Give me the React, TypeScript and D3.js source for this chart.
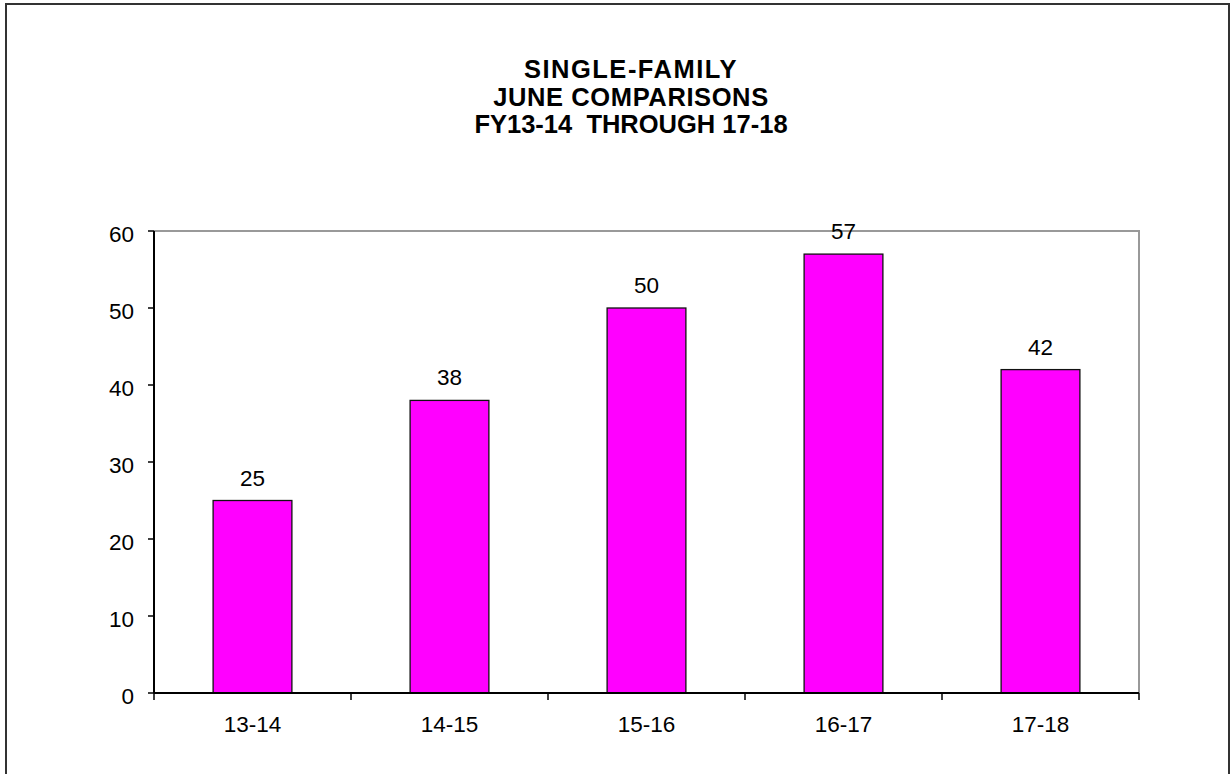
import React, { useEffect, useRef } from "react";
import * as d3 from "d3";

// fiscal years shown on the x axis
const categories = ["13-14", "14-15", "15-16", "16-17", "17-18"];
// single-family counts for June
const values = [25, 38, 50, 57, 42];
const yTicks = [0, 10, 20, 30, 40, 50, 60];
const titleLines = ["SINGLE-FAMILY", "JUNE COMPARISONS", "FY13-14\u00a0\u00a0THROUGH 17-18"];

const W = 1230;
const H = 774;
const left = 154, right = 1139, top = 231, bottom = 693;

export default function App() {
  const svgRef = useRef<SVGSVGElement>(null);

  useEffect(() => {
    const svg = d3.select(svgRef.current);
    svg.selectAll("*").remove();

    const x = d3.scaleBand<string>().domain(categories).range([left, right]).paddingInner(0.6).paddingOuter(0.3);
    const xb = d3.scaleBand<string>().domain(categories).range([left, right]);
    const y = d3.scaleLinear().domain([0, 60]).range([bottom, top]);

    // outer frame
    svg.append("rect")
      .attr("x", 6).attr("y", 4).attr("width", 1223).attr("height", 780)
      .attr("fill", "white").attr("stroke", "#333").attr("stroke-width", 2);

    // title
    svg.append("g").selectAll("text").data(titleLines).join("text")
      .attr("x", 631).attr("y", (d, i) => 78 + i * 27.5)
      .attr("text-anchor", "middle")
      .attr("font-family", "Arial, 'Liberation Sans', sans-serif")
      .attr("font-weight", "bold").attr("font-size", 25.5)
      .attr("letter-spacing", (d, i) => (i === 0 ? 1.5 : i === 1 ? 0.6 : 0))
      .text(d => d);

    // plot border (grey top/right)
    svg.append("path")
      .attr("d", `M${left},${top}H${right}V${bottom}`)
      .attr("fill", "none").attr("stroke", "#999").attr("stroke-width", 2);

    // bars
    svg.append("g").selectAll("rect").data(values).join("rect")
      .attr("x", (d, i) => x(categories[i])!)
      .attr("y", d => y(d))
      .attr("width", x.bandwidth())
      .attr("height", d => bottom - y(d))
      .attr("fill", "#ff00ff").attr("stroke", "#111").attr("stroke-width", 1.3);

    // value labels
    svg.append("g").selectAll("text").data(values).join("text")
      .attr("x", (d, i) => x(categories[i])! + x.bandwidth() / 2)
      .attr("y", d => y(d) - 15)
      .attr("text-anchor", "middle")
      .attr("font-family", "Arial, 'Liberation Sans', sans-serif")
      .attr("font-size", 22.5)
      .text(d => d);

    // y axis
    const ya = svg.append("g");
    ya.append("line").attr("x1", left).attr("x2", left).attr("y1", top).attr("y2", bottom)
      .attr("stroke", "black").attr("stroke-width", 2);
    ya.selectAll("line.t").data(yTicks).join("line").attr("class", "t")
      .attr("x1", left - 6).attr("x2", left).attr("y1", d => y(d)).attr("y2", d => y(d))
      .attr("stroke", "black").attr("stroke-width", 1.5);
    ya.selectAll("text").data(yTicks).join("text")
      .attr("x", 134).attr("y", d => y(d) + 10.5)
      .attr("text-anchor", "end")
      .attr("font-family", "Arial, 'Liberation Sans', sans-serif")
      .attr("font-size", 22.5)
      .text(d => d);

    // x axis
    const xa = svg.append("g");
    xa.append("line").attr("x1", left).attr("x2", right).attr("y1", bottom).attr("y2", bottom)
      .attr("stroke", "black").attr("stroke-width", 2);
    const bounds = categories.map(c => xb(c)!).concat([right]);
    xa.selectAll("line.t").data(bounds).join("line").attr("class", "t")
      .attr("x1", d => d).attr("x2", d => d).attr("y1", bottom).attr("y2", bottom + 7)
      .attr("stroke", "black").attr("stroke-width", 1.5);
    xa.selectAll("text").data(categories).join("text")
      .attr("x", d => xb(d)! + xb.bandwidth() / 2)
      .attr("y", 732)
      .attr("text-anchor", "middle")
      .attr("font-family", "Arial, 'Liberation Sans', sans-serif")
      .attr("font-size", 22.5)
      .text(d => d);
  }, []);

  return (
    <svg ref={svgRef} width={W} height={H}
      style={{ position: "absolute", left: 0, top: 0, background: "white" }} />
  );
}
